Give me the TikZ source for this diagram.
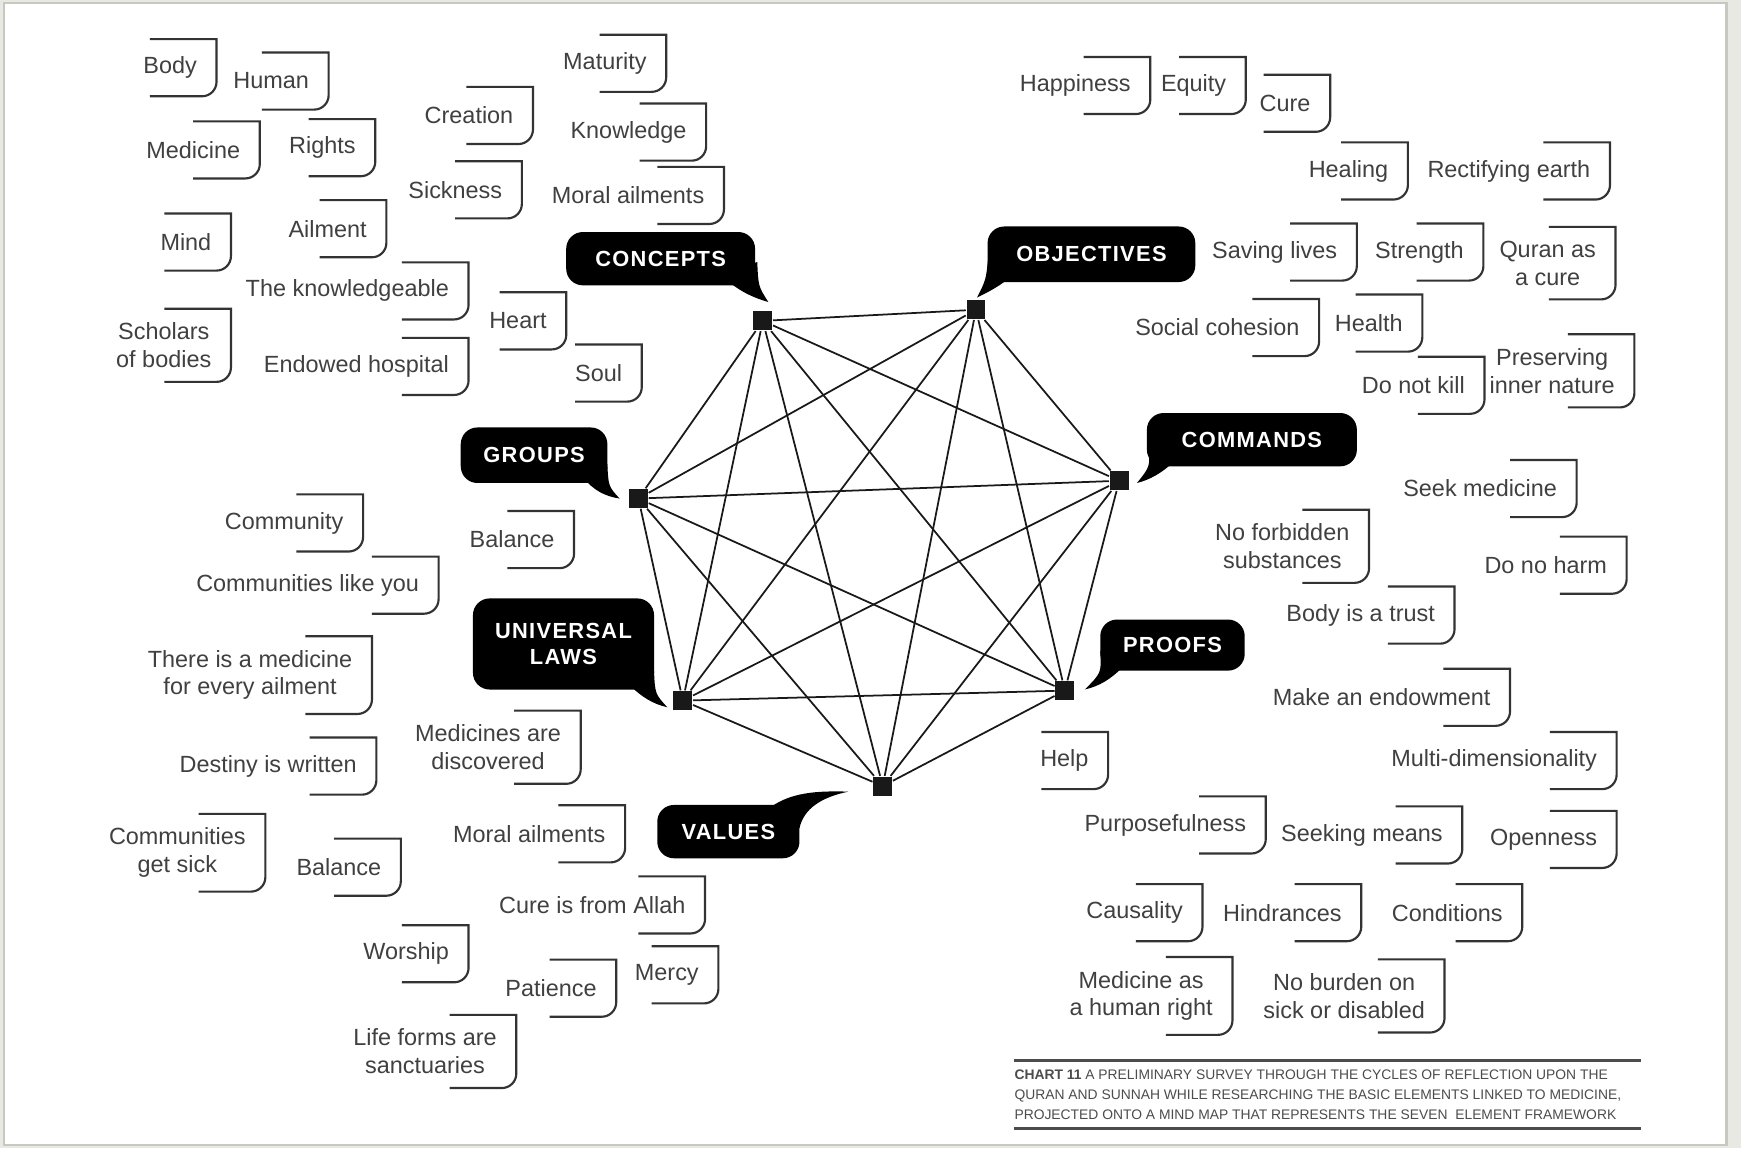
\documentclass[tikz,border=0pt]{standalone}
\usepackage{fontspec}
\setmainfont{Liberation Sans}
\newfontfamily\calloutfont{Liberation Sans}[LetterSpace=6]
\definecolor{pagegrey}{RGB}{233,233,227}
\definecolor{framegrey}{RGB}{200,200,192}
\tikzset{
  lbl/.style={anchor=east,inner xsep=0.17cm,inner ysep=0.12cm,minimum height=0.5cm,align=center,
    text=black!75,font=\fontsize{6}{7.1}\selectfont},
  bracket/.style={draw=black!80,line width=0.55pt},
  callout/.style={fill=black,text=white,rounded corners=0.15cm,inner sep=0pt,align=center,
    font=\calloutfont\bfseries\fontsize{5.6}{6.5}\selectfont},
  tail/.style={fill=black},
  hub/.style={fill=black!90,minimum size=0.17cm,inner sep=0pt},
  link/.style={draw=black!90,line width=0.45pt}
}
\newcommand{\brlabel}[4]{%
  \node[lbl] (#1) at (#2,#3) {#4};
  \draw[bracket] ([xshift=-0.6cm]#1.north east) -- (#1.north east) -- ([yshift=0.13cm]#1.south east)
    arc[start angle=0,end angle=-90,radius=0.13cm] -- ([xshift=-0.6cm]#1.south east);
}
\begin{document}
\begin{tikzpicture}[x=0.01cm,y=-0.01cm]
\useasboundingbox (0,0) rectangle (1568,1034);
\fill[pagegrey] (0,0) rectangle (1568,1034);
\draw[framegrey,fill=white,line width=0.6pt] (3.6,2.7) rectangle (1555,1031);

% hubs of the seven elements
\node[hub] (concepthub) at (687,289) {};
\node[hub] (objecthub) at (879,279) {};
\node[hub] (commandhub) at (1008,433) {};
\node[hub] (proofhub) at (959,622) {};
\node[hub] (valuehub) at (795,708) {};
\node[hub] (lawhub) at (615,631) {};
\node[hub] (grouphub) at (575,449) {};
\foreach \a/\b in {concepthub/objecthub,concepthub/commandhub,concepthub/proofhub,concepthub/valuehub,
    concepthub/lawhub,concepthub/grouphub,objecthub/commandhub,objecthub/proofhub,objecthub/valuehub,
    objecthub/lawhub,objecthub/grouphub,commandhub/proofhub,commandhub/valuehub,commandhub/lawhub,
    commandhub/grouphub,proofhub/valuehub,proofhub/lawhub,proofhub/grouphub,valuehub/lawhub,
    valuehub/grouphub,lawhub/grouphub}
  \draw[link] (\a) -- (\b);

% callouts
\fill[tail] (670,240) -- (682,236) .. controls (683,258) .. (692,272) .. controls (678,268) and (665,262) .. (652,250) -- cycle;
\node[callout,minimum width=1.7cm,minimum height=0.48cm] (concepts) at (595,233) {CONCEPTS};
\fill[tail] (895,235) -- (890,232) .. controls (888,252) .. (880,268) .. controls (892,262) and (900,258) .. (912,248) -- cycle;
\node[callout,minimum width=1.87cm,minimum height=0.5cm] (objectives) at (983,229) {OBJECTIVES};
\fill[tail] (530,425) -- (547,418) .. controls (548,438) .. (558,449) .. controls (545,447) and (535,442) .. (525,430) -- cycle;
\node[callout,minimum width=1.32cm,minimum height=0.5cm] (groups) at (481,410) {GROUPS};
\fill[tail] (570,610) -- (589,604) .. controls (590,625) .. (601,637) .. controls (588,634) and (578,628) .. (566,616) -- cycle;
\node[callout,minimum width=1.63cm,minimum height=0.82cm] (laws) at (507.5,580) {UNIVERSAL\\LAWS};
\fill[tail] (1040,405) -- (1034,402) .. controls (1036,420) .. (1024,435) .. controls (1036,432) and (1046,426) .. (1056,417) -- cycle;
\node[callout,minimum width=1.89cm,minimum height=0.48cm] (commands) at (1127.5,396) {COMMANDS};
\fill[tail] (998,590) -- (991,586) .. controls (992,606) .. (977,621) .. controls (990,618) and (1000,612) .. (1011,601) -- cycle;
\node[callout,minimum width=1.3cm,minimum height=0.46cm] (proofs) at (1056,581) {PROOFS};
\fill[tail] (700,735) -- (694,727) .. controls (712,714) and (735,712) .. (764,713) .. controls (740,718) and (724,728) .. (720,746) -- cycle;
\node[callout,minimum width=1.28cm,minimum height=0.48cm] (values) at (656,749) {VALUES};

% concepts
\brlabel{body}{195}{61}{Body}
\brlabel{human}{296}{73}{Human}
\brlabel{medicine}{234}{135}{Medicine}
\brlabel{rights}{338}{133}{Rights}
\brlabel{creation}{480}{104}{Creation}
\brlabel{sickness}{470}{171}{Sickness}
\brlabel{maturity}{600}{57}{Maturity}
\brlabel{knowledge}{636}{119}{Knowledge}
\brlabel{moralconcept}{652}{176}{Moral ailments}
\brlabel{mind}{208}{218}{Mind}
\brlabel{ailment}{348}{206}{Ailment}
\brlabel{knowledgeable}{422}{262}{The knowledgeable}
\brlabel{heart}{510}{289}{Heart}
\brlabel{scholars}{208}{311}{Scholars\\of bodies}
\brlabel{hospital}{422}{330}{Endowed hospital}
\brlabel{soul}{578}{336}{Soul}

% objectives
\brlabel{happiness}{1036}{77}{Happiness}
\brlabel{equity}{1122}{77}{Equity}
\brlabel{cure}{1198}{93}{Cure}
\brlabel{healing}{1268}{154}{Healing}
\brlabel{rectifying}{1450}{154}{Rectifying earth}
\brlabel{saving}{1222}{227}{Saving lives}
\brlabel{strength}{1336}{227}{Strength}
\brlabel{quran}{1455}{237}{Quran as\\a cure}
\brlabel{cohesion}{1188}{295}{Social cohesion}
\brlabel{health}{1281}{291}{Health}
\brlabel{notkill}{1337}{347}{Do not kill}
\brlabel{preserving}{1472}{334}{Preserving\\inner nature}

% commands and proofs
\brlabel{seek}{1420}{440}{Seek medicine}
\brlabel{forbidden}{1233}{492}{No forbidden\\substances}
\brlabel{noharm}{1465}{509}{Do no harm}
\brlabel{trust}{1310}{554}{Body is a trust}
\brlabel{endowment}{1360}{628}{Make an endowment}
\brlabel{multi}{1456}{685}{Multi-dimensionality}
\brlabel{help}{998}{685}{Help}
\brlabel{purpose}{1140}{743}{Purposefulness}
\brlabel{means}{1317}{752}{Seeking means}
\brlabel{openness}{1456}{756}{Openness}
\brlabel{causality}{1083}{822}{Causality}
\brlabel{hindrances}{1226}{822}{Hindrances}
\brlabel{conditions}{1371}{822}{Conditions}
\brlabel{humanright}{1110}{897}{Medicine as\\a human right}
\brlabel{burden}{1301}{897}{No burden on\\sick or disabled}

% groups, universal laws and values
\brlabel{community}{327}{471}{Community}
\brlabel{balancegroup}{517}{486}{Balance}
\brlabel{likeyou}{395}{527}{Communities like you}
\brlabel{everyail}{335}{608}{There is a medicine\\for every ailment}
\brlabel{discovered}{523}{673}{Medicines are\\discovered}
\brlabel{destiny}{339}{690}{Destiny is written}
\brlabel{moralvalue}{563}{751}{Moral ailments}
\brlabel{getsick}{239}{768}{Communities\\get sick}
\brlabel{balancevalue}{361}{781}{Balance}
\brlabel{allah}{635}{815}{Cure is from Allah}
\brlabel{worship}{422}{859}{Worship}
\brlabel{patience}{555}{890}{Patience}
\brlabel{mercy}{647}{878}{Mercy}
\brlabel{sanctuaries}{465}{947}{Life forms are\\sanctuaries}

% caption
\draw[black!70,line width=0.8pt] (913,955) -- (1478,955);
\draw[black!70,line width=0.8pt] (913,1016) -- (1478,1016);
\node[anchor=west,inner sep=0pt,align=left,text=black!70,font=\fontsize{3.55}{5.1}\selectfont] (chart) at (913,986)
  {\textbf{CHART 11} A PRELIMINARY SURVEY THROUGH THE CYCLES OF REFLECTION UPON THE\\
   QURAN AND SUNNAH WHILE RESEARCHING THE BASIC ELEMENTS LINKED TO MEDICINE,\\
   PROJECTED ONTO A MIND MAP THAT REPRESENTS THE SEVEN\ \ ELEMENT FRAMEWORK};
\end{tikzpicture}
\end{document}
